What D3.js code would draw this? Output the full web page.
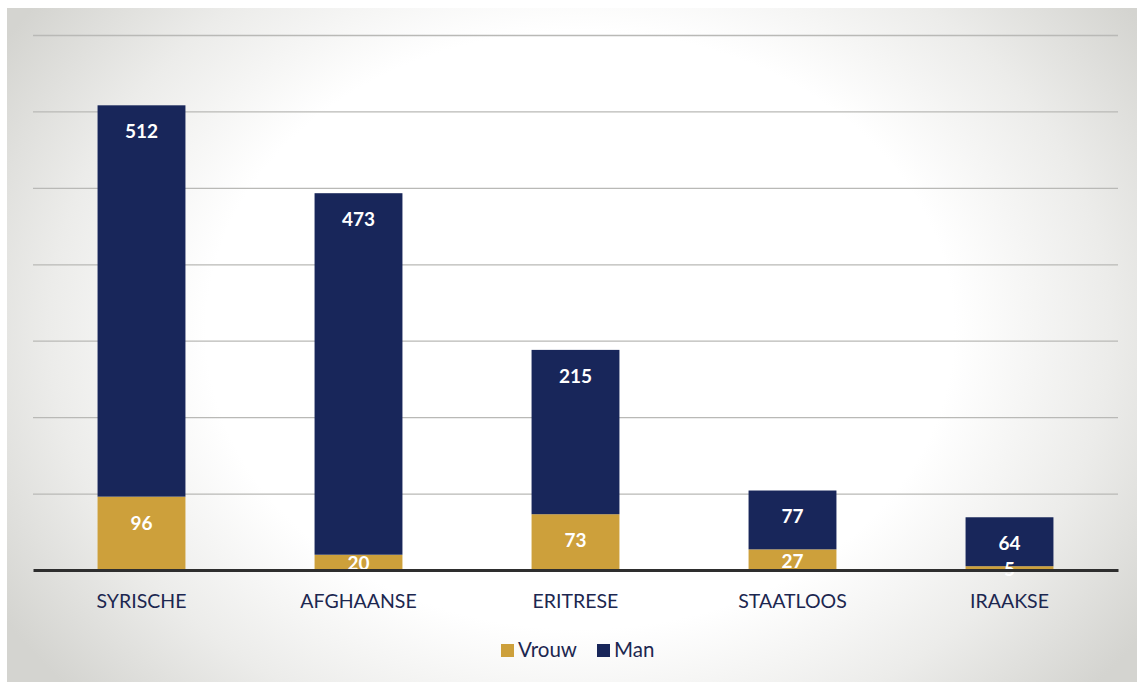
<!DOCTYPE html>
<html>
<head>
<meta charset="utf-8">
<script src="https://cdn.jsdelivr.net/npm/d3@7/dist/d3.min.js"></script>
<style>
  html, body { margin: 0; padding: 0; background: #ffffff; }
  svg { display: block; }
</style>
</head>
<body>
<svg id="chart" width="1137" height="682"></svg>
<script>
const categories = ["SYRISCHE", "AFGHAANSE", "ERITRESE", "STAATLOOS", "IRAAKSE"];
const vrouw = [96, 20, 73, 27, 5];
const man = [512, 473, 215, 77, 64];
const seriesNames = ["Vrouw", "Man"];
const yTicks = [0, 100, 200, 300, 400, 500, 600, 700];

const W = 1137, H = 682;
const svg = d3.select("#chart");
const defs = svg.append("defs");

const rg = defs.append("radialGradient").attr("id", "bg")
  .attr("gradientUnits", "userSpaceOnUse")
  .attr("cx", 580).attr("cy", 330).attr("r", 680)
  .attr("gradientTransform", "translate(580,330) scale(1,0.8) translate(-580,-330)");
rg.append("stop").attr("offset", "0%").attr("stop-color", "#ffffff");
rg.append("stop").attr("offset", "55%").attr("stop-color", "#ffffff");
rg.append("stop").attr("offset", "78%").attr("stop-color", "#ececea");
rg.append("stop").attr("offset", "100%").attr("stop-color", "#d4d4d0");

svg.append("rect").attr("x", 0).attr("y", 0).attr("width", W).attr("height", H).attr("fill", "#ffffff");
svg.append("rect").attr("x", 7).attr("y", 8).attr("width", W - 7).attr("height", H - 8).attr("fill", "url(#bg)");

const x = d3.scaleBand().domain(categories).range([33, 1118]).paddingInner(0.595).paddingOuter(0.2975);
const y = d3.scaleLinear().domain([0, 700]).range([570, 35]);

const colors = { Vrouw: "#cda03b", Man: "#18265a" };

// gridlines
svg.append("g")
  .attr("transform", "translate(33,0)")
  .call(d3.axisLeft(y).tickValues(yTicks.filter(d => d > 0)).tickSize(-(1118 - 33)).tickFormat(""))
  .call(g => g.select(".domain").remove())
  .call(g => g.selectAll(".tick line").attr("stroke", "#b9b9b6").attr("stroke-width", 1.3));

// stack
const table = categories.map((c, i) => ({ cat: c, Vrouw: vrouw[i], Man: man[i] }));
const stacked = d3.stack().keys(seriesNames)(table);

const layers = svg.append("g").selectAll("g").data(stacked).join("g")
  .attr("fill", d => colors[d.key]);
layers.selectAll("rect").data(d => d).join("rect")
  .attr("x", d => x(d.data.cat))
  .attr("width", x.bandwidth())
  .attr("y", d => y(d[1]))
  .attr("height", d => y(d[0]) - y(d[1]));

// value labels
const labels = svg.append("g");
stacked.forEach(layer => {
  layer.forEach(d => {
    const top = y(d[1]), bot = y(d[0]);
    const ly = Math.min(top + 28, (top + bot) / 2 + 3);
    labels.append("text")
      .attr("x", x(d.data.cat) + x.bandwidth() / 2)
      .attr("y", ly)
      .attr("text-anchor", "middle")
      .attr("dominant-baseline", "middle")
      .attr("fill", "#ffffff")
      .attr("font-family", "Lato, 'Open Sans', sans-serif")
      .attr("font-weight", "bold")
      .attr("font-size", 19)
      .text(d[1] - d[0]);
  });
});

// x axis
const xAxis = svg.append("g").attr("transform", "translate(0,570)")
  .call(d3.axisBottom(x).tickSize(0).tickPadding(24));
xAxis.select(".domain").attr("stroke", "#2e2e2e").attr("stroke-width", 3);
xAxis.selectAll(".tick text")
  .attr("fill", "#1c2750")
  .attr("font-family", "Lato, 'Open Sans', sans-serif")
  .attr("font-size", 19.5);

// legend
const legend = svg.append("g");
const legendItems = [
  { name: seriesNames[0], sx: 501, tx: 518 },
  { name: seriesNames[1], sx: 597, tx: 614 }
];
legendItems.forEach(it => {
  legend.append("rect").attr("x", it.sx).attr("y", 644).attr("width", 13).attr("height", 13)
    .attr("fill", colors[it.name]);
  legend.append("text").attr("x", it.tx).attr("y", 652)
    .attr("dominant-baseline", "middle")
    .attr("fill", "#1c2750")
    .attr("font-family", "Lato, 'Open Sans', sans-serif")
    .attr("font-size", 20.5)
    .text(it.name);
});
</script>
</body>
</html>
